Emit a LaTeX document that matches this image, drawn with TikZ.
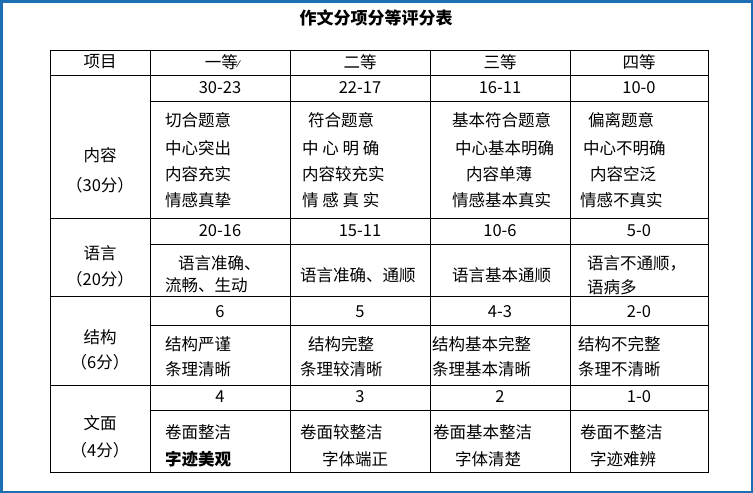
\documentclass[tikz,border=0pt]{standalone}
\usepackage{fontspec}
\setmainfont{Noto Sans CJK SC}
\newfontfamily\djv{DejaVu Sans}
\begin{document}
\begin{tikzpicture}[x=1pt,y=-1pt,
 t/.style={inner sep=0pt,anchor=west,font=\fontsize{16.5}{18}\selectfont},
 c/.style={inner sep=0pt,font=\fontsize{16.5}{18}\selectfont},
 g/.style={line width=0.9pt}]
\useasboundingbox (0,0) rectangle (753,493);
\fill[white] (0,0) rectangle (753,493);
\draw[line width=2.5pt,color={rgb,255:red,30;green,110;blue,180}] (1.25,1.25) rectangle (751.75,491.75);
\node[c,font=\fontsize{17}{19}\selectfont\bfseries] (title) at (376,18) {作文分项分等评分表};
\draw[g] (50,50) rectangle (708,472);
\foreach \y in {75,218,296,385} \draw[g] (50,\y) -- (708,\y);
\foreach \y in {101,244,325,410} \draw[g] (150,\y) -- (708,\y);
\foreach \x in {150,290,430,570} \draw[g] (\x,50) -- (\x,472);
\node[c] (h0) at (100,62) {项目};
\node[c] (h1) at (222,62) {一等\raisebox{.1ex}{\djv\small ⁄}};
\node[c] (h2) at (360,62) {二等};
\node[c] (h3) at (500,62) {三等};
\node[c] (h4) at (639,62) {四等};
\node[c] (l1a) at (100,155) {内容};
\node[c] (l1b) at (100,185) {（30分）};
\node[c] (l2a) at (100,253) {语言};
\node[c] (l2b) at (100,279) {（20分）};
\node[c] (l3a) at (100,337) {结构};
\node[c] (l3b) at (100,362) {（6分）};
\node[c] (l4a) at (100,423) {文面};
\node[c] (l4b) at (100,450) {（4分）};
\node[c] (s11) at (220,88) {30-23}; \node[c] (s12) at (360,88) {22-17};
\node[c] (s13) at (500,88) {16-11}; \node[c] (s14) at (639,88) {10-0};
\node[c] (s21) at (220,231) {20-16}; \node[c] (s22) at (360,231) {15-11};
\node[c] (s23) at (500,231) {10-6}; \node[c] (s24) at (639,231) {5-0};
\node[c] (s31) at (220,312) {6}; \node[c] (s32) at (360,312) {5};
\node[c] (s33) at (500,312) {4-3}; \node[c] (s34) at (639,312) {2-0};
\node[c] (s41) at (220,397) {4}; \node[c] (s42) at (360,397) {3};
\node[c] (s43) at (500,397) {2}; \node[c] (s44) at (639,397) {1-0};
\node[t] (a1) at (165,120) {切合题意};
\node[t] (a2) at (165,148) {中心突出};
\node[t] (a3) at (165,174) {内容充实};
\node[t] (a4) at (165,200) {情感真挚};
\node[t] (b1) at (308,120) {符合题意};
\node[t] (b2) at (302,148) {中 心 明 确};
\node[t] (b3) at (302,174) {内容较充实};
\node[t] (b4) at (302,200) {情 感 真 实};
\node[t] (c1) at (452,120) {基本符合题意};
\node[t] (c2) at (455,148) {中心基本明确};
\node[t] (c3) at (466,174) {内容单薄};
\node[t] (c4) at (452,200) {情感基本真实};
\node[t] (d1) at (588,120) {偏离题意};
\node[t] (d2) at (583,148) {中心不明确};
\node[t] (d3) at (590,174) {内容空泛};
\node[t] (d4) at (580,200) {情感不真实};
\node[t] (e1) at (178,263) {语言准确、};
\node[t] (e2) at (165,285) {流畅、生动};
\node[t] (f1) at (300,275) {语言准确、通顺};
\node[t] (g1) at (452,275) {语言基本通顺};
\node[t] (k1) at (587,263) {语言不通顺，};
\node[t] (k2) at (587,287) {语病多};
\node[t] (m1) at (165,344) {结构严谨};
\node[t] (m2) at (165,369) {条理清晰};
\node[t] (n1) at (308,344) {结构完整};
\node[t] (n2) at (300,369) {条理较清晰};
\node[t] (o1) at (432,344) {结构基本完整};
\node[t] (o2) at (432,369) {条理基本清晰};
\node[t] (p1) at (578,344) {结构不完整};
\node[t] (p2) at (578,369) {条理不清晰};
\node[t] (q1) at (165,432) {卷面整洁};
\node[t,font=\fontsize{16.5}{18}\selectfont\bfseries] (q2) at (165,459) {字迹美观};
\node[t] (r1) at (300,432) {卷面较整洁};
\node[t] (r2) at (322,459) {字体端正};
\node[t] (u1) at (433,432) {卷面基本整洁};
\node[t] (u2) at (455,459) {字体清楚};
\node[t] (v1) at (580,432) {卷面不整洁};
\node[t] (v2) at (590,459) {字迹难辨};
\end{tikzpicture}
\end{document}
